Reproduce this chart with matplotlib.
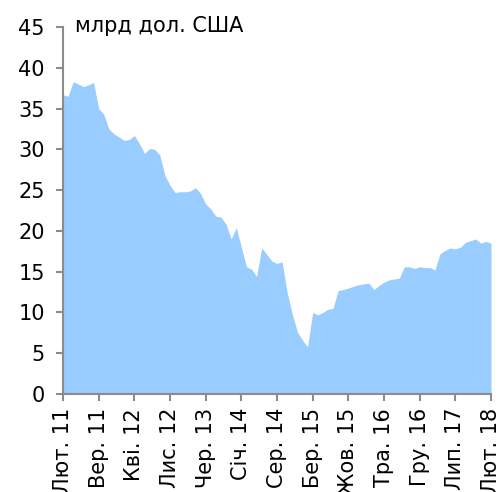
import matplotlib
matplotlib.use("Agg")
import matplotlib.pyplot as plt
import numpy as np

# monthly values, Feb 2011 .. Feb 2018 (bn USD)
values = [
    36.7, 36.5, 38.3, 38.0, 37.7, 37.9, 38.2, 35.0, 34.3, 32.5,
    31.9, 31.5, 31.1, 31.2, 31.7, 30.7, 29.5, 30.1, 30.0, 29.3,
    26.8, 25.6, 24.7, 24.8, 24.8, 24.9, 25.3, 24.6, 23.3, 22.7,
    21.8, 21.7, 20.8, 19.0, 20.4, 18.0, 15.6, 15.3, 14.4, 17.9,
    17.1, 16.3, 16.0, 16.2, 12.4, 9.8, 7.6, 6.6, 5.8, 10.0,
    9.7, 10.0, 10.4, 10.5, 12.7, 12.8, 13.0, 13.2, 13.4, 13.5,
    13.6, 12.8, 13.3, 13.7, 14.0, 14.1, 14.2, 15.6, 15.6, 15.4,
    15.6, 15.5, 15.5, 15.2, 17.2, 17.6, 17.9, 17.8, 18.0, 18.6,
    18.8, 19.0, 18.5, 18.7, 18.5,
]
tick_labels = ["Лют. 11", "Вер. 11", "Кві. 12", "Лис. 12", "Чер. 13", "Січ. 14",
               "Сер. 14", "Бер. 15", "Жов. 15", "Тра. 16", "Гру. 16", "Лип. 17", "Лют. 18"]
unit_label = "млрд дол. США"

x = np.arange(len(values))

fig = plt.figure(figsize=(5.03, 4.92), dpi=100)
ax = fig.add_axes([63 / 503, 1 - 394 / 492, 428 / 503, 367 / 492])

ax.fill_between(x, values, 0, color="#99ccff", linewidth=0)

ax.set_xlim(0, len(values) - 1)
ax.set_ylim(0, 45)
ax.set_yticks(np.arange(0, 46, 5))
ax.set_xticks(np.arange(0, len(values), 7))
ax.set_xticklabels(tick_labels, rotation=90)

for side in ["top", "right"]:
    ax.spines[side].set_visible(False)
for side in ["left", "bottom"]:
    ax.spines[side].set_color("#8c8c8c")
    ax.spines[side].set_linewidth(1.5)
ax.tick_params(axis="both", colors="#8c8c8c", width=1.5, labelsize=15,
               labelcolor="black", direction="out")
ax.tick_params(axis="y", length=5, pad=8)
ax.tick_params(axis="x", length=5, pad=5)

fig.text(75 / 503, 1 - 32 / 492, unit_label, fontsize=15, va="baseline", ha="left")

fig.savefig("out.png", dpi=100)
